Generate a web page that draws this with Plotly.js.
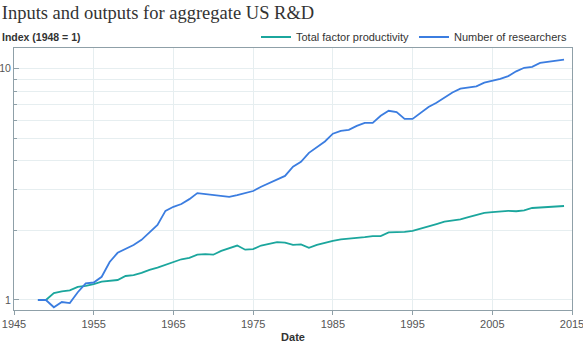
<!DOCTYPE html>
<html>
<head>
<meta charset="utf-8">
<script src="https://cdn.plot.ly/plotly-3.0.1.min.js"></script>
<style>
  html, body { margin: 0; padding: 0; background: #fff; }
  #chart { width: 583px; height: 343px; }
</style>
</head>
<body>
<div id="chart"></div>
<script>
// years 1948..2014
var years = [];
for (var yr = 1948; yr <= 2014; yr++) years.push(yr);

// Total factor productivity (index, 1948 = 1)
var tfp = [
  1.00, 1.00, 1.07, 1.09, 1.10, 1.14, 1.15, 1.17, 1.20, 1.21,
  1.22, 1.27, 1.28, 1.31, 1.35, 1.38, 1.42, 1.46, 1.50, 1.52,
  1.57, 1.58, 1.57, 1.63, 1.68, 1.72, 1.65, 1.66, 1.72, 1.75,
  1.78, 1.77, 1.73, 1.74, 1.68, 1.73, 1.77, 1.80, 1.83, 1.84,
  1.86, 1.87, 1.89, 1.89, 1.96, 1.96, 1.97, 1.99, 2.04, 2.09,
  2.13, 2.18, 2.21, 2.23, 2.28, 2.33, 2.38, 2.40, 2.41, 2.43,
  2.42, 2.44, 2.50, 2.51, 2.52, 2.53, 2.55
];

// Number of researchers (index, 1948 = 1)
var researchers = [
  1.00, 1.00, 0.93, 0.98, 0.97, 1.08, 1.18, 1.19, 1.26, 1.46,
  1.60, 1.66, 1.73, 1.82, 1.95, 2.11, 2.43, 2.53, 2.60, 2.73,
  2.90, 2.87, 2.83, 2.81, 2.79, 2.84, 2.90, 2.96, 3.09, 3.21,
  3.31, 3.44, 3.77, 3.96, 4.33, 4.59, 4.85, 5.24, 5.39, 5.44,
  5.66, 5.83, 5.83, 6.26, 6.58, 6.50, 6.07, 6.07, 6.45, 6.83,
  7.13, 7.50, 7.90, 8.20, 8.28, 8.40, 8.71, 8.88, 9.05, 9.30,
  9.75, 10.1, 10.2, 10.6, 10.7, 10.85, 10.95
];

var xTicks = [1945, 1955, 1965, 1975, 1985, 1995, 2005, 2015];
var yTicks = [1, 10];
var yMinor = [2, 3, 4, 5, 6, 7, 8, 9];

var sans = 'Liberation Sans, Arial, sans-serif';
var axisCol = '#8fa0a8';
var gridCol = '#e6eef0';

var data = [
  {
    x: years, y: tfp, name: 'Total factor productivity',
    type: 'scatter', mode: 'lines',
    line: { color: '#1ba69d', width: 1.8 }
  },
  {
    x: years, y: researchers, name: 'Number of researchers',
    type: 'scatter', mode: 'lines',
    line: { color: '#3b7de0', width: 1.8 }
  }
];

var layout = {
  width: 583, height: 343,
  margin: { l: 14, r: 11, t: 48, b: 33 },
  paper_bgcolor: '#fff', plot_bgcolor: '#fff',
  font: { family: sans, size: 11, color: '#555' },
  title: {
    text: 'Inputs and outputs for aggregate US R&D',
    font: { family: 'Liberation Serif, serif', size: 18.5, color: '#333' },
    x: 0.003, xanchor: 'left', y: 0.963, yanchor: 'middle'
  },
  showlegend: true,
  legend: {
    orientation: 'h', x: 1, xanchor: 'right', y: 1.042, yanchor: 'middle',
    font: { family: sans, size: 11, color: '#333' },
    bgcolor: 'rgba(0,0,0,0)'
  },
  xaxis: {
    range: [1945, 2015],
    tickvals: xTicks, ticktext: xTicks.map(String),
    ticks: 'outside', ticklen: 4, tickcolor: axisCol,
    ticklabeloverflow: 'allow',
    showline: true, linecolor: axisCol, linewidth: 1, mirror: true,
    showgrid: true, gridcolor: gridCol, gridwidth: 1,
    zeroline: false,
    title: { text: '<b>Date</b>', font: { family: sans, size: 11, color: '#333' }, standoff: 6 }
  },
  yaxis: {
    type: 'log',
    range: [Math.log10(0.905), Math.log10(12.3)],
    tickvals: yTicks, ticktext: yTicks.map(String),
    tickfont: { size: 10.5 },
    ticks: 'inside', ticklen: 5, tickcolor: axisCol,
    ticklabeloverflow: 'allow', ticklabelstandoff: 0,
    showline: true, linecolor: axisCol, linewidth: 1, mirror: true,
    showgrid: true, gridcolor: gridCol, gridwidth: 1,
    zeroline: false,
    minor: { tickvals: yMinor, ticks: 'inside', ticklen: 3, tickcolor: axisCol,
             showgrid: true, gridcolor: gridCol, gridwidth: 1 }
  },
  annotations: [
    {
      text: '<b>Index (1948 = 1)</b>', xref: 'paper', yref: 'paper',
      x: 0, xshift: -14, xanchor: 'left', y: 1.042, yanchor: 'middle',
      showarrow: false, font: { family: sans, size: 10.5, color: '#333' }
    }
  ]
};

Plotly.newPlot('chart', data, layout, { displayModeBar: false, staticPlot: true });
</script>
</body>
</html>
